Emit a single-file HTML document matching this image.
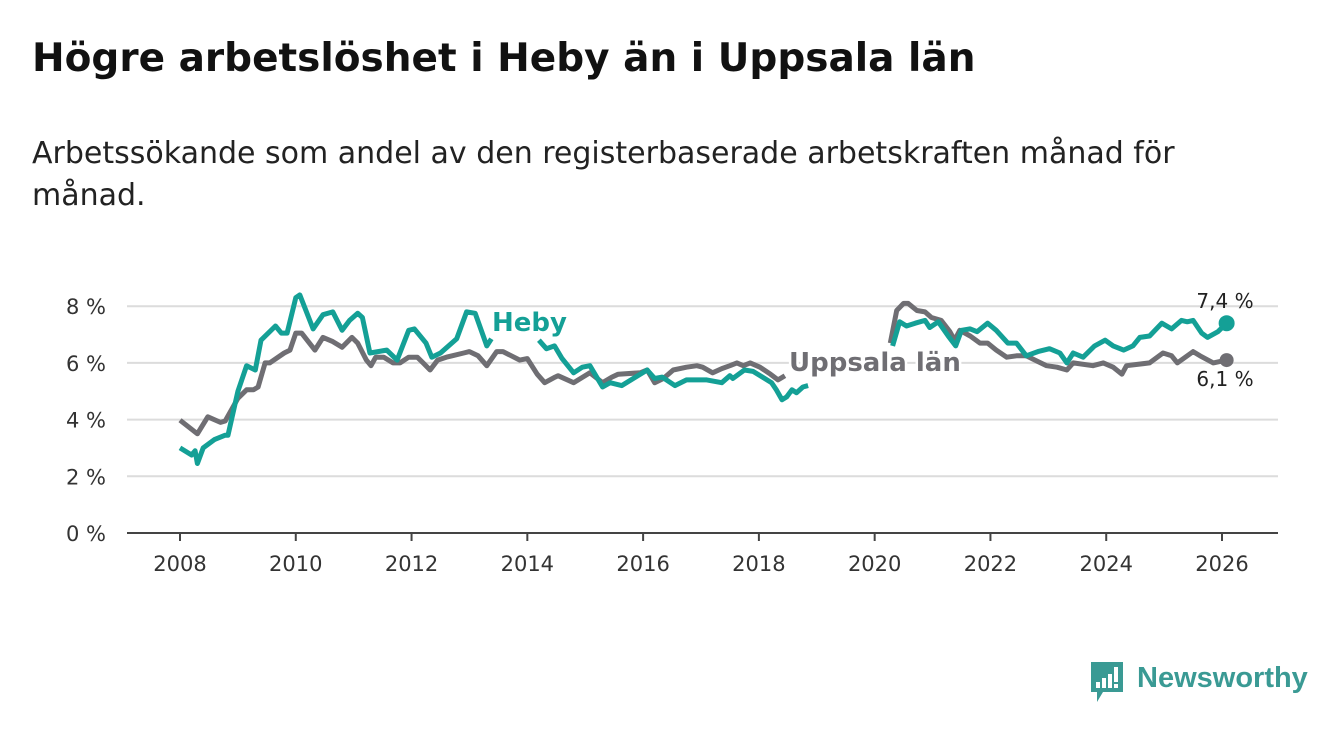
<!DOCTYPE html>
<html><head><meta charset="utf-8">
<style>
body{margin:0;width:1340px;height:734px;background:#fff;font-family:"DejaVu Sans","Liberation Sans",sans-serif;overflow:hidden;position:relative}
h1{position:absolute;left:32px;top:36px;margin:0;font-size:39px;font-weight:bold;color:#111;white-space:nowrap}
.sub{position:absolute;left:32px;top:133px;width:1250px;font-size:30px;line-height:42px;color:#222;white-space:nowrap}
svg{position:absolute;left:0;top:0}
</style></head><body>
<h1>Högre arbetslöshet i Heby än i Uppsala län</h1>
<div class="sub">Arbetssökande som andel av den registerbaserade arbetskraften månad för<br>månad.</div>
<svg id="chart" width="1340" height="734"></svg>
<div style="position:absolute;left:1089px;top:662px;width:230px;height:42px">
<svg width="36" height="42" style="position:absolute;left:0;top:0"><path d="M2 0H34V30H14L8 40V30H2Z" fill="#3a9a94"/><rect x="7" y="20" width="4" height="6" fill="#fff"/><rect x="13" y="16" width="4" height="10" fill="#fff"/><rect x="19" y="12" width="4" height="14" fill="#fff"/><rect x="25" y="5" width="4" height="15" fill="#fff"/><rect x="25" y="22" width="4" height="4" fill="#fff"/></svg>
<span style="position:absolute;left:48px;top:0;font-size:29px;color:#3a9a94;font-weight:bold;font-family:'Liberation Sans',sans-serif">Newsworthy</span></div>
<script>
const yTicks=[0,2,4,6,8];
const xTicks=[2008,2010,2012,2014,2016,2018,2020,2022,2024,2026];
const hebyT=[2008.0,2008.2,2008.26,2008.3,2008.4,2008.6,2008.78,2008.83,2009.0,2009.15,2009.3,2009.4,2009.65,2009.75,2009.85,2010.0,2010.07,2010.3,2010.47,2010.64,2010.8,2010.93,2011.07,2011.15,2011.28,2011.57,2011.75,2011.95,2012.05,2012.25,2012.35,2012.5,2012.78,2012.95,2013.1,2013.3,2013.38,null,2014.2,2014.33,2014.47,2014.6,2014.8,2014.95,2015.08,2015.3,2015.43,2015.63,2016.07,2016.2,2016.33,2016.55,2016.75,2017.1,2017.36,2017.5,2017.55,2017.75,2017.9,2018.22,2018.3,2018.4,2018.48,2018.57,2018.65,2018.76,2018.85,null,2020.31,2020.43,2020.55,2020.7,2020.87,2020.95,2021.1,2021.27,2021.4,2021.5,2021.65,2021.77,2021.95,2022.1,2022.3,2022.45,2022.62,2022.82,2023.02,2023.2,2023.32,2023.43,2023.6,2023.8,2023.98,2024.12,2024.3,2024.46,2024.58,2024.75,2024.96,2025.13,2025.3,2025.4,2025.5,2025.65,2025.75,2025.93,2026.08];
const hebyV=[3.0,2.75,2.9,2.45,3.0,3.3,3.45,3.45,5.0,5.9,5.75,6.8,7.3,7.05,7.05,8.3,8.4,7.2,7.7,7.8,7.15,7.5,7.75,7.6,6.35,6.45,6.1,7.15,7.2,6.7,6.2,6.35,6.85,7.8,7.75,6.6,6.85,null,6.8,6.5,6.6,6.15,5.65,5.85,5.9,5.15,5.3,5.2,5.75,5.45,5.5,5.2,5.4,5.4,5.3,5.55,5.45,5.75,5.7,5.3,5.05,4.7,4.8,5.05,4.95,5.15,5.2,null,6.6,7.45,7.3,7.4,7.5,7.25,7.45,6.95,6.6,7.15,7.2,7.1,7.4,7.15,6.7,6.7,6.25,6.4,6.5,6.35,6.0,6.35,6.2,6.6,6.8,6.6,6.45,6.6,6.9,6.95,7.4,7.2,7.5,7.45,7.5,7.05,6.9,7.1,7.4];
const uppT=[2008.0,2008.3,2008.48,2008.7,2008.78,2009.0,2009.15,2009.27,2009.35,2009.47,2009.55,2009.8,2009.9,2010.0,2010.1,2010.33,2010.47,2010.64,2010.8,2010.97,2011.07,2011.22,2011.3,2011.38,2011.52,2011.68,2011.8,2011.95,2012.1,2012.2,2012.32,2012.45,2012.6,2012.7,2012.9,2013.0,2013.15,2013.3,2013.47,2013.58,2013.87,2014.0,2014.17,2014.3,2014.48,2014.53,2014.8,2015.08,2015.3,2015.46,2015.57,2015.95,2016.07,2016.2,2016.35,2016.52,2016.75,2016.93,2017.03,2017.2,2017.36,2017.5,2017.62,2017.73,2017.85,2018.02,2018.2,2018.33,2018.45,null,2020.27,2020.38,2020.5,2020.58,2020.73,2020.87,2020.98,2021.15,2021.3,2021.38,2021.47,2021.65,2021.82,2021.95,2022.1,2022.28,2022.45,2022.62,2022.77,2022.97,2023.15,2023.32,2023.43,2023.77,2023.95,2024.12,2024.27,2024.35,2024.75,2024.98,2025.13,2025.23,2025.5,2025.62,2025.85,2026.08];
const uppV=[3.98,3.5,4.1,3.9,3.95,4.75,5.05,5.05,5.15,6.0,6.0,6.35,6.45,7.05,7.05,6.45,6.9,6.75,6.55,6.9,6.7,6.1,5.9,6.2,6.2,6.0,6.0,6.2,6.2,6.0,5.75,6.1,6.2,6.25,6.35,6.4,6.25,5.9,6.4,6.4,6.1,6.15,5.6,5.3,5.5,5.55,5.3,5.65,5.3,5.5,5.6,5.65,5.75,5.3,5.45,5.75,5.85,5.9,5.85,5.65,5.8,5.9,6.0,5.9,6.0,5.85,5.6,5.4,5.55,null,6.7,7.85,8.1,8.1,7.85,7.8,7.6,7.5,7.1,6.8,7.15,6.95,6.7,6.7,6.45,6.2,6.25,6.25,6.1,5.9,5.85,5.75,6.0,5.9,6.0,5.85,5.6,5.9,6.0,6.35,6.25,6.0,6.4,6.25,6.0,6.1];
const ns="http://www.w3.org/2000/svg";
const svg=document.getElementById('chart');
const X=t=>180+(t-2008)*(1222-180)/18;
const Y=v=>533-v*28.35;
const F='DejaVu Sans, Liberation Sans, sans-serif';
function mk(tag,attrs,text){const e=document.createElementNS(ns,tag);for(const k in attrs)e.setAttribute(k,attrs[k]);if(text!=null)e.textContent=text;svg.appendChild(e);return e;}
yTicks.forEach(v=>{
 if(v>0){const g=mk('line',{x1:127,x2:1278,y1:Y(v),y2:Y(v),stroke:'#dcdcdc','stroke-width':2});
 
 }
 const t=mk('text',{x:106,y:Y(v)+8,'text-anchor':'end','font-size':21,fill:'#333','font-family':F},v+' %');
 
 
});
const ax=mk('line',{x1:127,x2:1278,y1:533,y2:533,stroke:'#444','stroke-width':2});


xTicks.forEach(t=>{
 const tk=mk('line',{x1:X(t),x2:X(t),y1:533,y2:541,stroke:'#444','stroke-width':2});
 
 
 const l=mk('text',{x:X(t),y:571,'text-anchor':'middle','font-size':21,fill:'#333','font-family':F},t);
 
 
});
function path(T,V){let d='',pen=false;T.forEach((t,i)=>{if(t==null||V[i]==null){pen=false;return;}d+=(pen?'L':'M')+X(t).toFixed(1)+' '+Y(V[i]).toFixed(1);pen=true;});return d;}
const pu=mk('path',{d:path(uppT,uppV),fill:'none',stroke:'#6f6e73','stroke-width':5,'stroke-linejoin':'round'});


const ph=mk('path',{d:path(hebyT,hebyV),fill:'none',stroke:'#14a096','stroke-width':5,'stroke-linejoin':'round'});


const lu=uppT.length-1,lh=hebyT.length-1;
const du=mk('circle',{cx:X(uppT[lu]),cy:Y(uppV[lu]),r:7,fill:'#6f6e73'});


const dh=mk('circle',{cx:X(hebyT[lh]),cy:Y(hebyV[lh]),r:8,fill:'#14a096'});


const vh=mk('text',{x:1225,y:308,'text-anchor':'middle','font-size':20,fill:'#222','font-family':F},hebyV[lh].toFixed(1).replace('.',',')+' %');


const vu=mk('text',{x:1225,y:386,'text-anchor':'middle','font-size':20,fill:'#222','font-family':F},uppV[lu].toFixed(1).replace('.',',')+' %');


const lh2=mk('text',{x:492,y:331,'font-size':26,'font-weight':'bold',fill:'#14a096',stroke:'#fff','stroke-width':5,'paint-order':'stroke','font-family':F},'Heby');


const lu2=mk('text',{x:789,y:371,'font-size':26,'font-weight':'bold',fill:'#6f6e73',stroke:'#fff','stroke-width':5,'paint-order':'stroke','font-family':F},'Uppsala län');


</script>
</body></html>
